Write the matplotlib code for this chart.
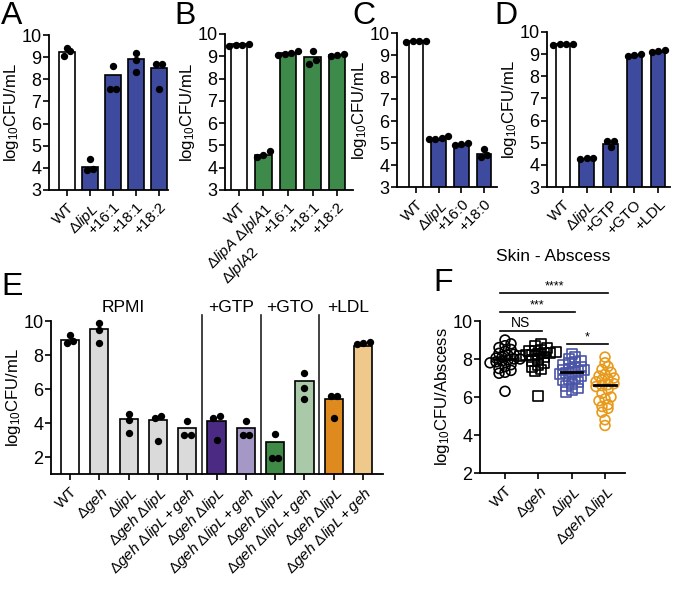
import numpy as np
import matplotlib
matplotlib.use('Agg')
import matplotlib.pyplot as plt

plt.rcParams['font.family'] = ['Liberation Sans', 'DejaVu Sans']
plt.rcParams['mathtext.fontset'] = 'custom'
plt.rcParams['mathtext.rm'] = 'Liberation Sans'
plt.rcParams['mathtext.it'] = 'Liberation Sans:italic'
plt.rcParams['mathtext.bf'] = 'Liberation Sans:bold'

# --- 顏色 ---
BLUE = '#3d4a9e'
GREEN = '#3e8a4a'
GRAY = '#dadada'
PURPLE_D = '#4b2a84'
PURPLE_L = '#a597c6'
GREEN_D = '#3f8a47'
GREEN_L = '#a9c9a8'
ORANGE_D = '#de8a1f'
ORANGE_L = '#efc98c'
F_BLUE = '#4a55a8'
F_ORANGE = '#e89a1a'

LIPL = r'$\Delta\mathit{lipL}$'
GEH = r'$\Delta\mathit{geh}$'
GEH_LIPL = r'$\Delta\mathit{geh}\ \Delta\mathit{lipL}$'
GEH_LIPL_C = r'$\Delta\mathit{geh}\ \Delta\mathit{lipL} + \mathit{geh}$'
YLAB = r'log$_{10}$CFU/mL'

# --- A ---
a_labels = ['WT', LIPL, '+16:1', '+18:1', '+18:2']
a_bars = [9.25, 4.05, 8.2, 8.9, 8.5]
a_points = [[9.4, 9.05, 9.3], [4.4, 3.95, 3.9], [7.55, 8.6, 7.55],
            [9.2, 8.35, 8.85], [8.7, 7.55, 8.7]]
a_colors = ['white', BLUE, BLUE, BLUE, BLUE]

# --- B ---
b_labels = ['WT', r'$\Delta\mathit{lipA}\ \Delta\mathit{lplA1}$' + '\n' + r'$\Delta\mathit{lplA2}$',
            '+16:1', '+18:1', '+18:2']
b_bars = [9.55, 4.57, 9.15, 8.95, 9.05]
b_points = [[9.45, 9.55, 9.5, 9.5], [4.5, 4.73, 4.58], [9.05, 9.25, 9.15, 9.1],
            [8.65, 9.25, 8.85], [9.0, 9.1, 9.05]]
b_colors = ['white', GREEN, GREEN, GREEN, GREEN]

# --- C ---
c_labels = ['WT', LIPL, '+16:0', '+18:0']
c_bars = [9.65, 5.15, 4.9, 4.49]
c_points = [[9.62, 9.65, 9.6, 9.62], [5.2, 5.3, 5.25, 5.2], [4.95, 5.0, 4.9],
            [4.75, 4.37, 4.45]]
c_colors = ['white', BLUE, BLUE, BLUE]

# --- D ---
d_labels = ['WT', LIPL, '+GTP', '+GTO', '+LDL']
d_bars = [9.45, 4.25, 4.95, 8.95, 9.1]
d_points = [[9.45, 9.45, 9.45, 9.4], [4.3, 4.25, 4.3], [5.1, 4.8, 5.1],
            [8.9, 9.0, 8.95], [9.1, 9.2, 9.15]]
d_colors = ['white', BLUE, BLUE, BLUE, BLUE]

# --- E ---
e_labels = ['WT', GEH, LIPL, GEH_LIPL, GEH_LIPL_C, GEH_LIPL, GEH_LIPL_C,
            GEH_LIPL, GEH_LIPL_C, GEH_LIPL, GEH_LIPL_C]
e_groups = ['RPMI', '+GTP', '+GTO', '+LDL']
e_group_sizes = [5, 2, 2, 2]
e_bars = [8.9, 9.55, 4.25, 4.15, 3.7, 4.12, 3.7, 2.88, 6.49, 5.4, 8.55]
e_points = [[8.73, 9.16, 8.82], [9.9, 8.7, 9.5], [4.55, 3.42, 4.15],
            [4.4, 2.95, 4.3], [3.27, 4.12, 3.27], [4.4, 2.98, 4.3],
            [3.3, 4.12, 3.3], [1.96, 3.37, 1.96], [6.94, 6.08, 5.39],
            [5.57, 4.31, 5.57], [8.7, 8.76, 8.67]]
e_colors = ['white', GRAY, GRAY, GRAY, GRAY, PURPLE_D, PURPLE_L,
            GREEN_D, GREEN_L, ORANGE_D, ORANGE_L]

# --- F ---
f_labels = ['WT', GEH, LIPL, GEH_LIPL]
f_wt = [9.0, 8.8, 8.7, 8.6, 8.5, 8.4, 8.3, 8.25, 8.2, 8.1, 8.05, 8.0, 8.0,
        7.95, 7.9, 7.85, 7.8, 7.7, 7.6, 7.5, 7.4, 7.3, 7.25, 6.3]
f_geh = [8.8, 8.7, 8.6, 8.5, 8.45, 8.4, 8.35, 8.3, 8.3, 8.25, 8.2, 8.2, 8.15,
         8.1, 8.0, 7.9, 7.8, 7.7, 7.6, 7.45, 7.35, 6.05]
f_lipl = [8.25, 8.1, 8.0, 7.9, 7.85, 7.8, 7.7, 7.6, 7.55, 7.5, 7.45, 7.4, 7.35,
          7.3, 7.25, 7.2, 7.1, 7.0, 6.95, 6.9, 6.8, 6.7, 6.6, 6.45, 6.35, 6.25]
f_geh_lipl = [8.1, 7.8, 7.6, 7.45, 7.3, 7.2, 7.1, 7.0, 6.95, 6.9, 6.8, 6.7, 6.65,
              6.6, 6.55, 6.4, 6.2, 6.0, 5.9, 5.8, 5.6, 5.5, 5.4, 5.2, 4.8, 4.5]
f_colors = ['black', 'black', F_BLUE, F_ORANGE]
f_markers = ['o', 's', 's', 'o']
f_sig = [(0, 3, '****'), (0, 2, '***'), (0, 1, 'NS'), (2, 3, '*')]
f_sig_y = [11.47, 10.47, 9.47, 8.79]

W, H = 677, 590
fig = plt.figure(figsize=(W / 100, H / 100), dpi=100)


def add_ax(left, top, right, bottom):
    return fig.add_axes([left / W, 1 - bottom / H, (right - left) / W, (bottom - top) / H])


def swarm(vals, px_y, px_x, bin_px, step_px):
    # 分組排列點，避免重疊
    vals = np.asarray(vals, dtype=float)
    order = np.argsort(vals)
    offs = np.zeros(len(vals))
    bins, cur = [], [order[0]]
    for idx in order[1:]:
        if (vals[idx] - vals[cur[0]]) * px_y <= bin_px:
            cur.append(idx)
        else:
            bins.append(cur)
            cur = [idx]
    bins.append(cur)
    for b in bins:
        k = len(b)
        for i, idx in enumerate(b):
            offs[idx] = (i - (k - 1) / 2) * step_px / px_x
    return offs


def style(ax, ylab):
    for s in ['top', 'right']:
        ax.spines[s].set_visible(False)
    for s in ['left', 'bottom']:
        ax.spines[s].set_linewidth(1.3)
    ax.tick_params(width=1.2, length=4, labelsize=13)
    ax.tick_params(axis='y', pad=1.5)
    ax.tick_params(axis='x', labelsize=11)
    ax.set_ylabel(ylab, fontsize=12, labelpad=0)


def bar_panel(ax, labels, bars, points, colors, width, ylim, yticks):
    x = np.arange(len(bars))
    ax.bar(x, bars, width=width, color=colors, edgecolor='black', linewidth=1.2, zorder=2)
    bb = ax.get_position()
    px_x = bb.width * W / np.diff(ax.get_xlim())[0]
    px_y = bb.height * H / (ylim[1] - ylim[0])
    for i, pts in enumerate(points):
        offs = swarm(pts, px_y, px_x, 6.5, 6.5)
        ax.scatter(i + offs, pts, s=28, color='black', zorder=3, clip_on=False, linewidths=0)
    ax.set_ylim(*ylim)
    ax.set_yticks(yticks)
    ax.set_xticks(x)
    ax.set_xticklabels(labels, rotation=45, ha='right', rotation_mode='anchor')
    for t in ax.get_xticklabels():
        t.set_multialignment('left')


# A
ax = add_ax(49, 35, 168, 190)
ax.set_xlim(-0.78, 4.39)
bar_panel(ax, a_labels, a_bars, a_points, a_colors, 0.68, (3, 10), range(3, 11))
style(ax, YLAB)

# B
ax = add_ax(225, 34, 353, 190)
ax.set_xlim(-0.57, 4.65)
bar_panel(ax, b_labels, b_bars, b_points, b_colors, 0.68, (3, 10), range(3, 11))
style(ax, YLAB)

# C
ax = add_ax(397, 33, 497, 187)
ax.set_xlim(-0.84, 3.57)
bar_panel(ax, c_labels, c_bars, c_points, c_colors, 0.65, (3, 10), range(3, 11))
style(ax, YLAB)

# D
ax = add_ax(547, 32, 670, 187)
ax.set_xlim(-0.67, 4.5)
bar_panel(ax, d_labels, d_bars, d_points, d_colors, 0.62, (3, 10), range(3, 11))
style(ax, YLAB)

# E
ax = add_ax(51, 321, 383, 474)
ax.set_xlim(-0.65, 10.68)
bar_panel(ax, e_labels, e_bars, e_points, e_colors, 0.62, (1, 10), range(2, 11, 2))
style(ax, YLAB)
edges = np.cumsum(e_group_sizes)
starts = np.concatenate([[0], edges[:-1]])
for e in edges[:-1]:
    ax.plot([e - 0.5, e - 0.5], [1, 10.35], color='#222222', lw=1.2, clip_on=False)
for g, s0, n in zip(e_groups, starts, e_group_sizes):
    ax.text(s0 + (n - 1) / 2 - (0.2 if g == 'RPMI' else 0), 10.8, g,
            ha='center', va='center', fontsize=12.5)

# F
ax = add_ax(480, 321, 625, 473)
ax.set_xlim(-0.75, 3.6)
ax.set_ylim(2, 10)
bb = ax.get_position()
fpx_x = bb.width * W / 4.35
fpx_y = bb.height * H / 8
for i, vals in enumerate([f_wt, f_geh, f_lipl, f_geh_lipl]):
    offs = swarm(vals, fpx_y, fpx_x, 4.5, 6)
    ax.scatter(i + offs, vals, s=50, marker=f_markers[i], facecolors='none',
               edgecolors=f_colors[i], linewidths=1.2, zorder=3, clip_on=False)
    med = np.median(vals)
    ax.plot([i - 0.32, i + 0.32], [med, med], color='black', lw=2, zorder=4)
for (i, j, lab), yy in zip(f_sig, f_sig_y):
    ax.plot([i - 0.15, j + 0.1], [yy, yy], color='black', lw=1.2, clip_on=False)
    ax.text((i - 0.15 + j + 0.1) / 2, yy + 0.05, lab, ha='center', va='bottom',
            fontsize=10 if lab == 'NS' else 9, clip_on=False)
ax.text(1.45, 13.4, 'Skin - Abscess', ha='center', va='center', fontsize=12.5)
ax.set_yticks(range(2, 11, 2))
ax.set_xticks(range(4))
ax.set_xticklabels(f_labels, rotation=45, ha='right', rotation_mode='anchor')
style(ax, r'log$_{10}$CFU/Abscess')

# 面板字母
for lab, (px, py) in zip('ABCDEF', [(12, 16), (185, 16), (364, 16), (506, 16), (12, 287), (443, 283)]):
    fig.text(px / W, 1 - py / H, lab, ha='center', va='center', fontsize=23)

fig.savefig('out.png', dpi=100)
